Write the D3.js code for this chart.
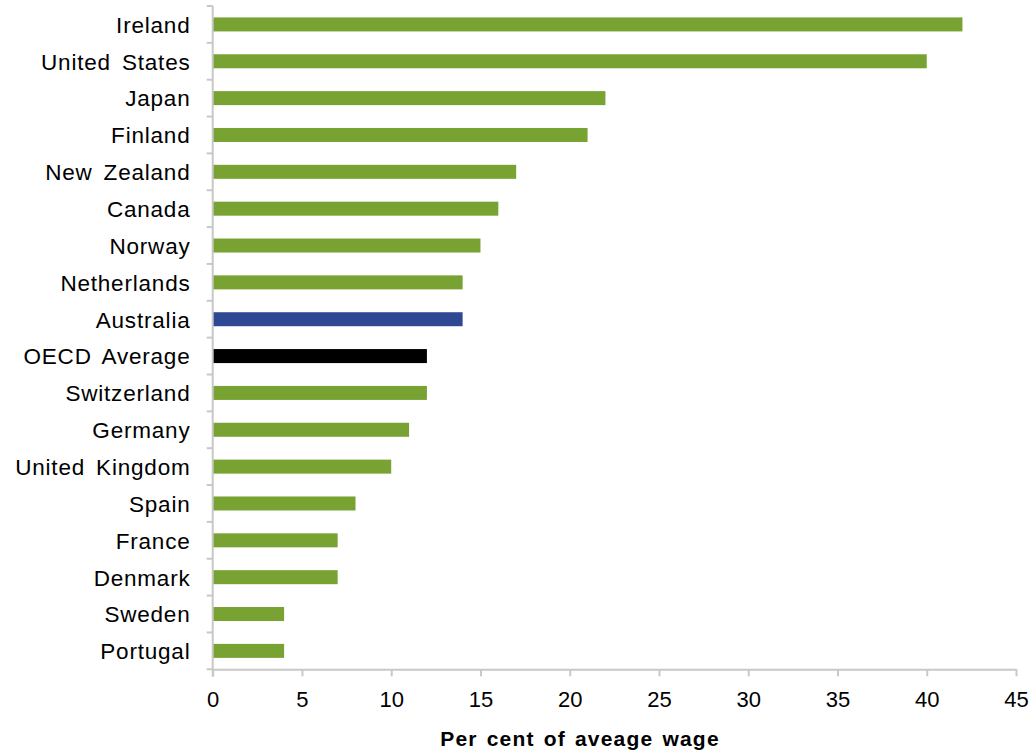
<!DOCTYPE html>
<html><head><meta charset="utf-8">
<script src="https://cdn.jsdelivr.net/npm/d3@7"></script>
<style>body{margin:0;background:#fff}svg{display:block}text{font-family:"Liberation Sans",Arial,sans-serif;fill:#000}</style>
</head><body>
<svg id="c" width="1036" height="753"></svg>
<script>
const categories = ["Ireland","United States","Japan","Finland","New Zealand","Canada","Norway","Netherlands","Australia","OECD Average","Switzerland","Germany","United Kingdom","Spain","France","Denmark","Sweden","Portugal"];
const values = [42,40,22,21,17,16,15,14,14,12,12,11,10,8,7,7,4,4];
const xTicks = [0,5,10,15,20,25,30,35,40,45];
const xTitle = "Per cent of aveage wage";
const colorFor = c => c === "Australia" ? "#2E4894" : c === "OECD Average" ? "#000000" : "#78A232";

(function(){
const svg = d3.select("#c");
const mLeft = 212.7, mRight = 1016, mTop = 6, mBottom = 669.3;
const x = d3.scaleLinear().domain([0,45]).range([mLeft,mRight]);
const y = d3.scaleBand().domain(categories).range([mTop,mBottom]).paddingInner(0.62).paddingOuter(0.31);
const axisColor = "#c8c8c8";

svg.selectAll("rect.bar").data(categories).join("rect")
  .attr("class","bar")
  .attr("x", x(0)).attr("y", c => y(c))
  .attr("width", (c,i) => x(values[i]) - x(0))
  .attr("height", y.bandwidth())
  .attr("fill", colorFor);

const step = (mBottom - mTop) / categories.length;
svg.append("line").attr("x1",mLeft).attr("x2",mLeft).attr("y1",mTop).attr("y2",mBottom+7.5).attr("stroke",axisColor).attr("stroke-width",2);
d3.range(categories.length+1).forEach(i=>{
  const yy = mTop + i*step;
  svg.append("line").attr("x1",mLeft-6).attr("x2",mLeft).attr("y1",yy).attr("y2",yy).attr("stroke",axisColor).attr("stroke-width",2);
});

const xa = svg.append("g").attr("transform",`translate(0,${mBottom})`)
  .call(d3.axisBottom(x).tickValues(xTicks).tickSize(7).tickSizeOuter(0).tickPadding(14));
xa.select(".domain").attr("stroke",axisColor).attr("stroke-width",2);
xa.selectAll(".tick line").attr("stroke",axisColor).attr("stroke-width",2);
xa.selectAll(".tick text").attr("font-size",22).attr("font-family","Liberation Sans, Arial, sans-serif").attr("fill","#000")
  .attr("dy",null).attr("y",37.5);

svg.selectAll("text.cat").data(categories).join("text")
  .attr("class","cat")
  .attr("x", 190.5).attr("y", c => y(c) + y.bandwidth()/2)
  .attr("dy","0.37em")
  .attr("text-anchor","end")
  .attr("font-size",22.5)
  .style("letter-spacing","0.8px")
  .style("word-spacing","4px")
  .text(c=>c);

svg.append("text").attr("x",580).attr("y",746).attr("text-anchor","middle")
  .attr("font-size",21).attr("font-weight","bold")
  .style("letter-spacing","1.2px").style("word-spacing","2px").text(xTitle);
})();
</script>
</body></html>
